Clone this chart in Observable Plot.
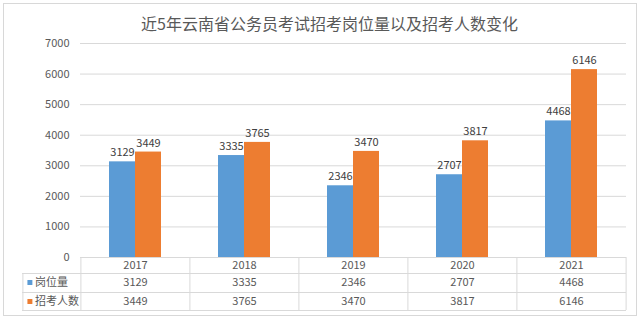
<!DOCTYPE html>
<html>
<head>
<meta charset="utf-8">
<script src="https://cdn.jsdelivr.net/npm/d3@7"></script>
<script src="https://cdn.jsdelivr.net/npm/@observablehq/plot@0.6"></script>
<style>
  html, body { margin: 0; padding: 0; background: #fff; }
  #chart svg { display: block; outline: 1px solid #d8d8d8; outline-offset: -4px; }
</style>
</head>
<body>
<div id="chart"></div>
<script>
const title = "近5年云南省公务员考试招考岗位量以及招考人数变化";
const years = ["2017", "2018", "2019", "2020", "2021"];
const seriesNames = ["岗位量", "招考人数"];
const posts = [3129, 3335, 2346, 2707, 4468];
const applicants = [3449, 3765, 3470, 3817, 6146];
const yTicks = [0, 1000, 2000, 3000, 4000, 5000, 6000, 7000];

const colors = ["#5B9BD5", "#ED7D31"];
const textGray = "#595959";
const lineGray = "#d9d9d9";
const font = "'Noto Sans CJK SC', 'Noto Sans', sans-serif";

const W = 640, H = 319;
const mTop = 43, mBottom = 62, mLeft = 80, mRight = 14;
const step = (W - mLeft - mRight) / years.length;
const half = step / 2;
const plotH = H - mTop - mBottom;
const rowDy = [25, 44];

const rows = years.map((y, i) => ({year: y, posts: posts[i], applicants: applicants[i]}));

const legendMarks = seriesNames.flatMap((name, i) => [
  Plot.dot([name], {x: () => years[0], y: () => 0, dx: -half - 51, dy: rowDy[i], symbol: "square", r: 2.8, fill: colors[i], stroke: null}),
  Plot.text([name], {x: () => years[0], y: () => 0, text: d => d, dx: -half - 46, dy: rowDy[i], textAnchor: "start", fontSize: 11, fill: textGray})
]);

const chart = Plot.plot({
  width: W,
  height: H,
  marginTop: mTop,
  marginBottom: mBottom,
  marginLeft: mLeft,
  marginRight: mRight,
  style: {fontFamily: font, background: "#fff", overflow: "visible"},
  x: {type: "band", domain: years, paddingInner: 0.524, paddingOuter: 0.262, axis: null},
  y: {domain: [0, 7000], axis: null},
  marks: [
    Plot.gridY(yTicks, {stroke: lineGray, strokeOpacity: 1}),
    Plot.axisY(yTicks, {tickSize: 0, tickPadding: 11, fontSize: 11, fill: textGray, label: null, tickFormat: d => String(d)}),
    Plot.barY(rows, {x: "year", y: "posts", fill: colors[0], insetRight: 26}),
    Plot.barY(rows, {x: "year", y: "applicants", fill: colors[1], insetLeft: 26}),
    Plot.text(rows, {x: "year", y: "posts", text: d => String(d.posts), dx: -13, dy: -9, fontSize: 11, fill: "#404040"}),
    Plot.text(rows, {x: "year", y: "applicants", text: d => String(d.applicants), dx: 13, dy: -9, fontSize: 11, fill: "#404040"}),
    // title
    Plot.text([title], {frameAnchor: "top", dx: -24, dy: -25, fontSize: 16, fill: textGray, text: d => d}),
    // data table: text rows
    Plot.text(rows, {x: "year", y: () => 0, text: "year", dy: 8, fontSize: 11, fill: textGray}),
    Plot.text(rows, {x: "year", y: () => 0, text: d => String(d.posts), dy: rowDy[0], fontSize: 11, fill: textGray}),
    Plot.text(rows, {x: "year", y: () => 0, text: d => String(d.applicants), dy: rowDy[1], fontSize: 11, fill: textGray}),
    // table horizontal lines
    Plot.ruleY([0], {dy: 16, insetLeft: -58, stroke: lineGray}),
    Plot.ruleY([0], {dy: 35, insetLeft: -58, stroke: lineGray}),
    Plot.ruleY([0], {dy: 53, insetLeft: -58, stroke: lineGray}),
    // table vertical lines
    Plot.ruleX(years, {x: d => d, dx: -half, insetTop: plotH, insetBottom: -53, stroke: lineGray}),
    Plot.ruleX([years[years.length - 1]], {x: d => d, dx: half, insetTop: plotH, insetBottom: -53, stroke: lineGray}),
    Plot.ruleX([years[0]], {x: d => d, dx: -half - 58, insetTop: plotH + 16, insetBottom: -53, stroke: lineGray}),
    ...legendMarks
  ]
});

document.getElementById("chart").append(chart);
</script>
</body>
</html>
